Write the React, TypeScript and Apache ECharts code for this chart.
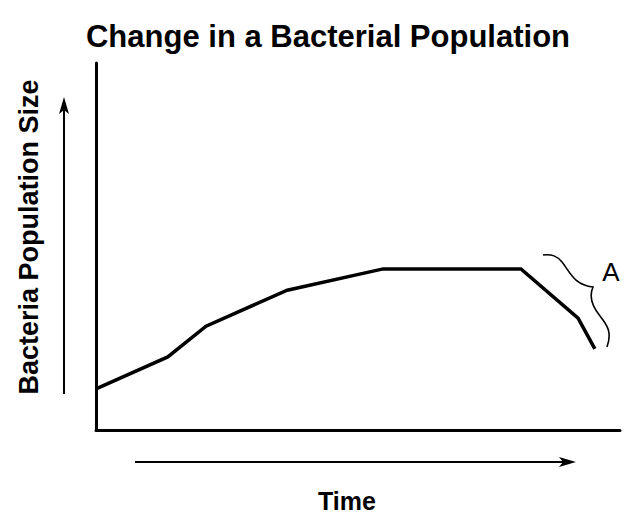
import React, { useEffect, useRef } from "react";
import * as echarts from "echarts";

const timeValues = [0, 13.7, 21.0, 36.5, 54.8, 81.1, 92.0, 95.2];
const populationValues = [11.2, 19.9, 28.3, 38.1, 43.9, 43.9, 30.5, 22.1];
const titleText = "Change in a Bacterial Population";
const xLabel = "Time";
const yLabel = "Bacteria Population Size";
const braceLabel = "A";

const braceD =
  "M543,255 C552,254 557,256 562,262 C570,272 574,285 593,287 C589,296 591,305 600,316 C608,326 612,333 607,347";

let registered = false;

export default function App() {
  const ref = useRef<HTMLDivElement>(null);
  useEffect(() => {
    if (!ref.current) return;
    if (!registered) {
      echarts.graphic.registerShape("brace", echarts.graphic.extendPath(braceD, {}) as any);
      registered = true;
    }
    const chart = echarts.init(ref.current, null, { renderer: "svg" });
    const font = "'Liberation Sans', Arial, Helvetica, sans-serif";
    chart.setOption({
      animation: false,
      backgroundColor: "#ffffff",
      grid: { left: 96, right: 8, top: 63, bottom: 87 },
      xAxis: {
        type: "value",
        min: 0,
        max: 100,
        axisLine: { show: true, lineStyle: { color: "#000", width: 3 } },
        axisTick: { show: false },
        axisLabel: { show: false },
        splitLine: { show: false },
      },
      yAxis: {
        type: "value",
        min: 0,
        max: 100,
        axisLine: { show: true, lineStyle: { color: "#000", width: 3 } },
        axisTick: { show: false },
        axisLabel: { show: false },
        splitLine: { show: false },
      },
      series: [
        {
          type: "line",
          data: timeValues.map((t, i) => [t, populationValues[i]]),
          showSymbol: false,
          lineStyle: { color: "#000", width: 3.5, join: "miter" },
        },
      ],
      graphic: [
        {
          type: "text",
          x: 328,
          y: 36,
          style: { text: titleText, font: `bold 31px ${font}`, fill: "#000", align: "center", verticalAlign: "middle" },
        },
        // vertical arrow
        { type: "line", shape: { x1: 64, y1: 394, x2: 64, y2: 108 }, style: { stroke: "#000", lineWidth: 2 } },
        { type: "polygon", shape: { points: [[64, 97], [69, 114], [64, 110], [59, 114]] }, style: { fill: "#000" } },
        // horizontal arrow
        { type: "line", shape: { x1: 135, y1: 462, x2: 566, y2: 462 }, style: { stroke: "#000", lineWidth: 2 } },
        { type: "polygon", shape: { points: [[576, 462], [559, 457], [563, 462], [559, 467]] }, style: { fill: "#000" } },
        // brace
        { type: "brace", x: 0, y: 0, style: { stroke: "#000", lineWidth: 1.6, fill: null } },
        {
          type: "text",
          x: 611,
          y: 272,
          style: { text: braceLabel, font: `26px ${font}`, fill: "#000", align: "center", verticalAlign: "middle" },
        },
        {
          type: "text",
          x: 347,
          y: 501,
          style: { text: xLabel, font: `bold 25px ${font}`, fill: "#000", align: "center", verticalAlign: "middle" },
        },
        {
          type: "text",
          x: 29,
          y: 237,
          rotation: Math.PI / 2,
          style: { text: yLabel, font: `bold 27px ${font}`, fill: "#000", align: "center", verticalAlign: "middle" },
        },
      ],
    });
    return () => chart.dispose();
  }, []);
  return <div ref={ref} style={{ width: 628, height: 517, position: "absolute", left: 0, top: 0 }} />;
}
